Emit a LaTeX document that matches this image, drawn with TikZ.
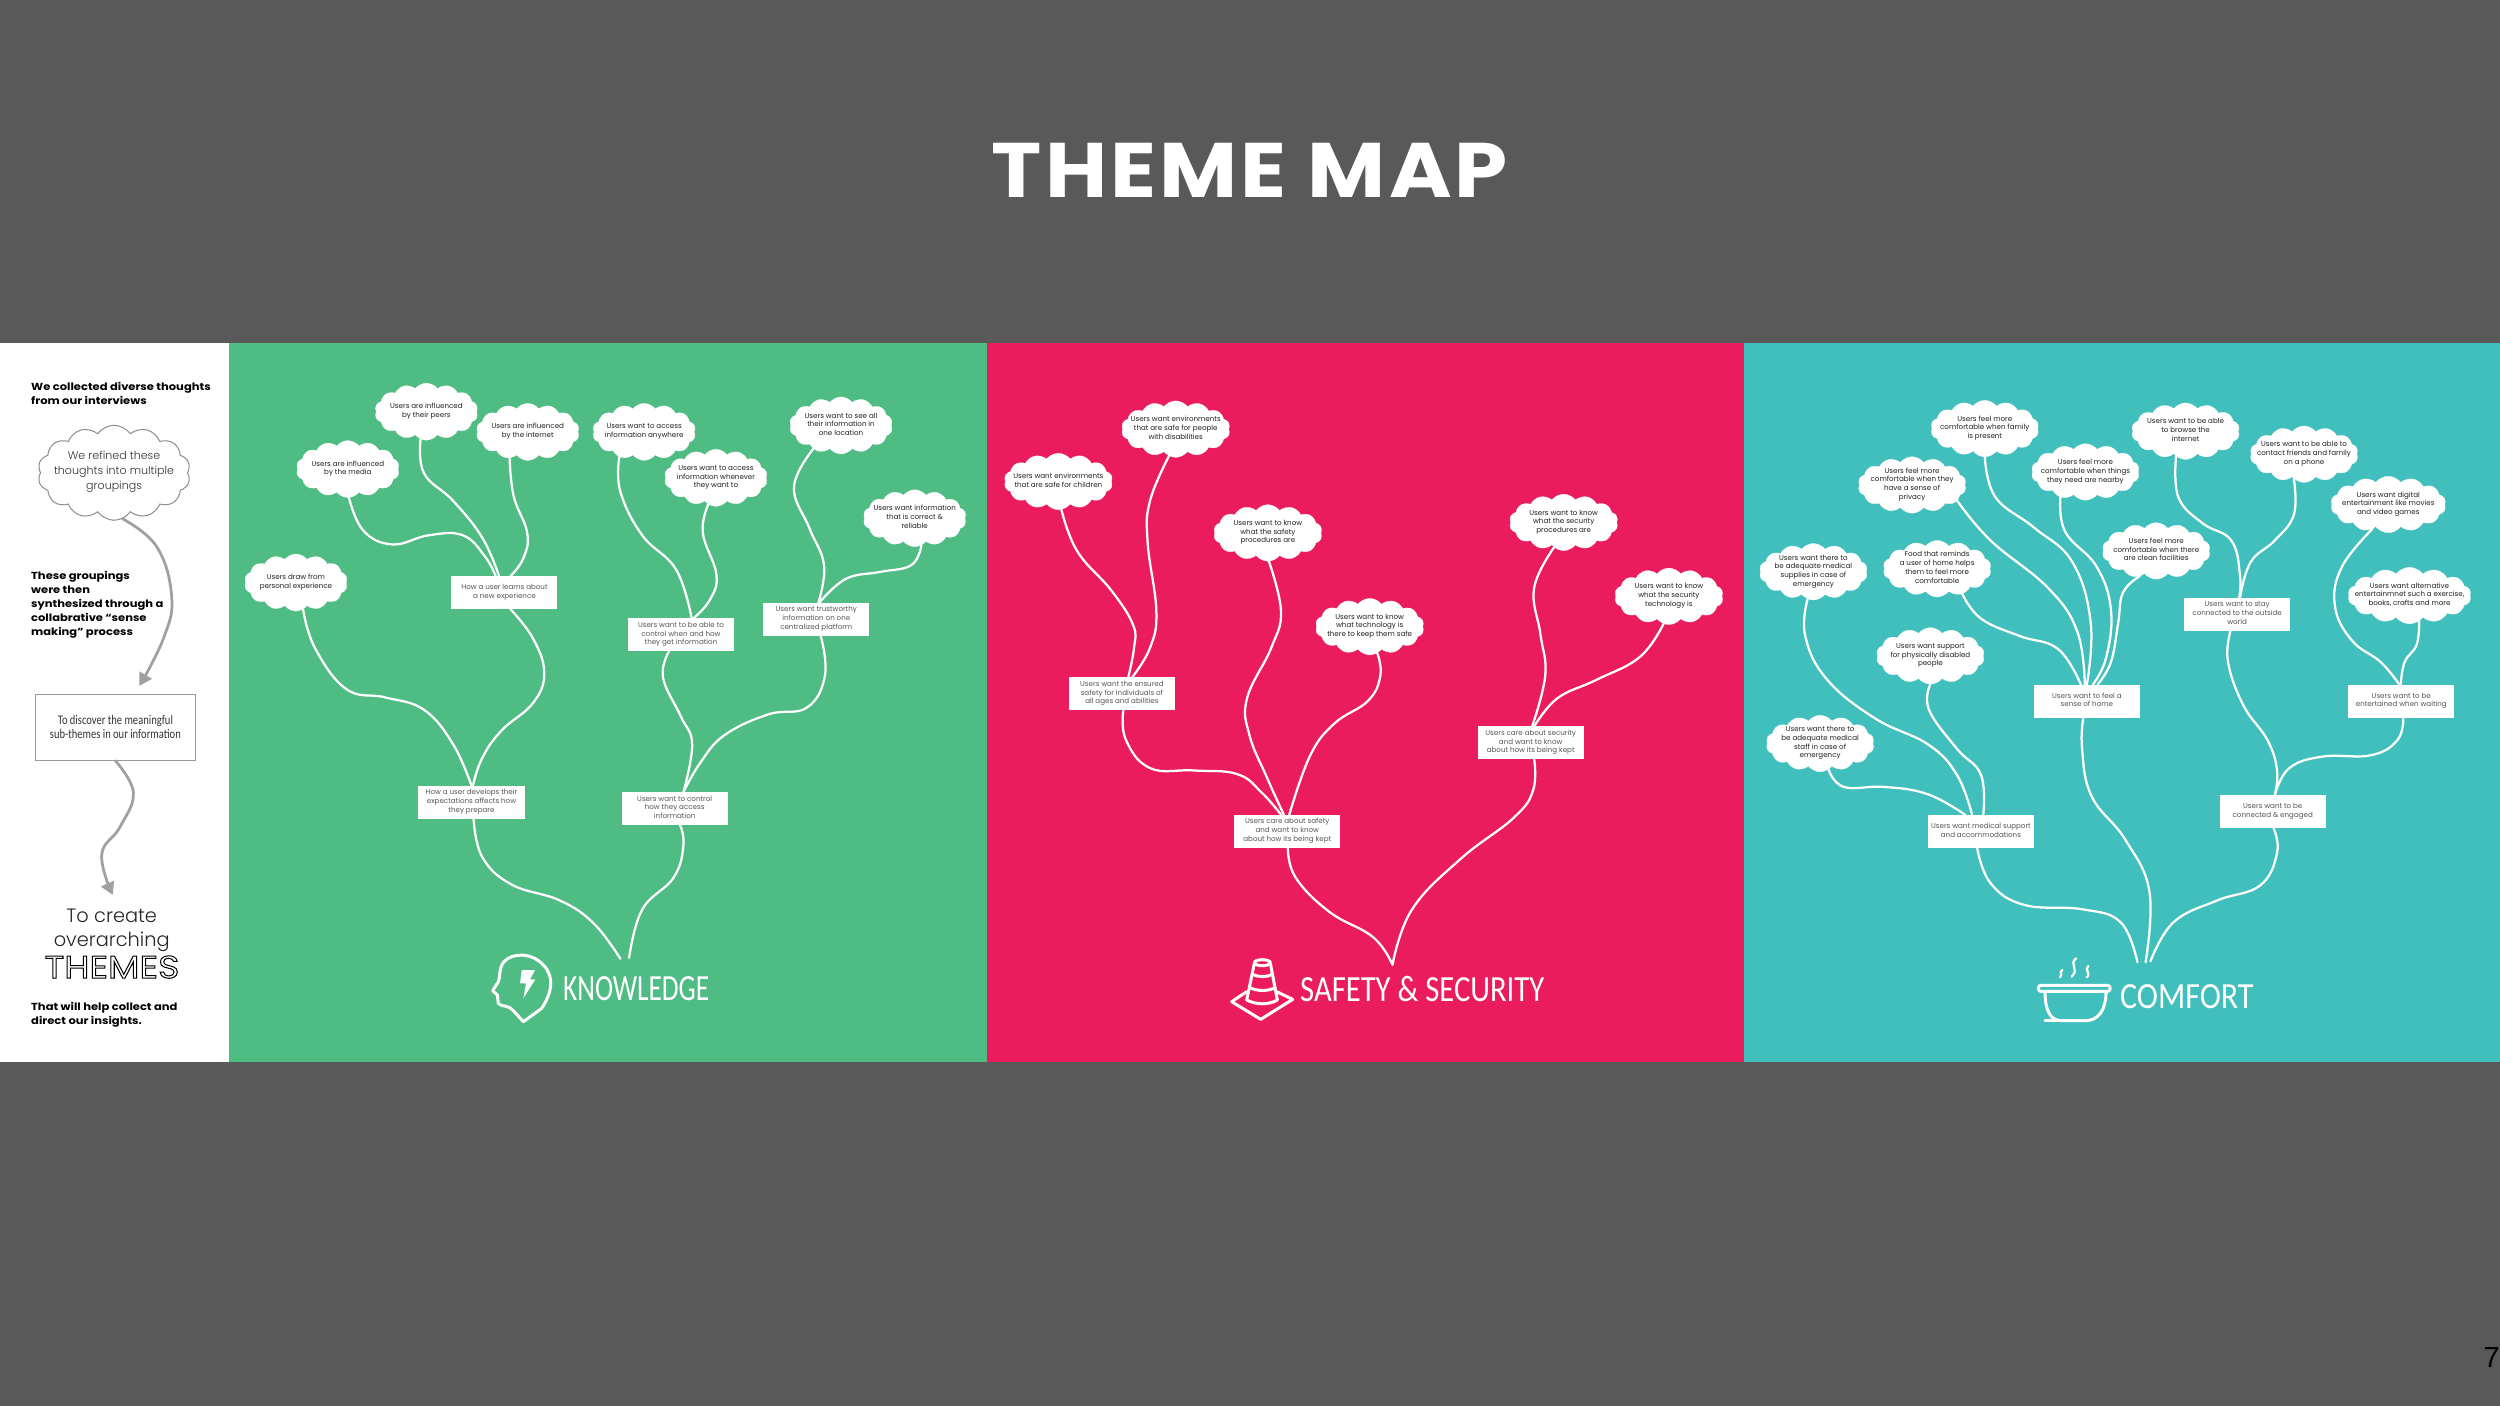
\documentclass[tikz,border=0pt]{standalone}
\usepackage{fontspec}
\usetikzlibrary{shapes.symbols,arrows.meta}
\setmainfont{Poppins}
\newfontfamily\titlefont[FakeStretch=1.1,LetterSpace=4]{Poppins}
\newfontfamily\leadfont[FakeStretch=1.13]{Poppins}
\newfontfamily\lightfont{Poppins Light}
\newfontfamily\narrowfont[FakeStretch=.8]{Carlito}
\newfontfamily\labelfont[FakeStretch=.74]{Carlito}
\newfontfamily\labelfontb[FakeStretch=.83]{Carlito}
\newfontfamily\labelfontc[FakeStretch=.865]{Carlito}
\newfontfamily\outlinefont[FakeBold=3.2,FakeStretch=1.15]{Poppins}
\newfontfamily\pagefont{Liberation Sans}
\definecolor{slidebg}{HTML}{595959}
\definecolor{kgreen}{HTML}{4FBC83}
\definecolor{spink}{HTML}{EB1C5E}
\definecolor{cteal}{HTML}{40BFBD}
\definecolor{flowgray}{HTML}{A0A0A0}
\definecolor{celltext}{HTML}{202020}
\definecolor{boxtext}{HTML}{555555}
\newcommand\zt[1]{\makebox[0pt]{\raisebox{-.38em}{\smash{\begin{tabular}{@{}c@{}}#1\end{tabular}}}}}
\tikzset{
  ideacloud/.style={cloud,cloud puffs=14,cloud puff arc=105,cloud ignores aspect=true,inner sep=0pt,outer sep=0pt,fill=white,draw=white,line width=.3pt,text=celltext,font=\fontsize{8.1}{9.9}\selectfont},
  subtheme/.style={rectangle,inner sep=0pt,outer sep=0pt,fill=white,minimum width=4.24cm,minimum height=1.32cm,text=boxtext,font=\fontsize{8.1}{9.9}\selectfont},
  branch/.style={draw=white,line width=.09cm,line cap=round},
  icon/.style={draw=white,line width=.12cm,line join=round,line cap=round},
  flow/.style={draw=flowgray,line width=.11cm,-{Triangle[length=.5cm,width=.55cm]}},
  leftbold/.style={anchor=west,align=left,inner sep=0pt,text=black,font=\leadfont\fontsize{11.6}{15.9}\selectfont\bfseries},
  themelabel/.style={inner sep=0pt,text=white,font=\fontsize{42}{42}\selectfont},
}
\newcommand\cl[6]{\node[ideacloud,minimum width=#4*.04cm,minimum height=#5*.04cm] (#1) at (#2,#3) {\zt{#6}};}
\newcommand\bx[4]{\node[subtheme] (#1) at (#2,#3) {\zt{#4}};}
\begin{document}
\begin{tikzpicture}[x=.04cm,y=-.04cm]
\useasboundingbox (0,0) rectangle (2500,1406);
\fill[slidebg] (0,0) rectangle (2500,1406);
\fill[white] (0,343) rectangle (229,1062);
\fill[kgreen] (229,343) rectangle (987,1062);
\fill[spink] (987,343) rectangle (1744,1062);
\fill[cteal] (1744,343) rectangle (2500,1062);
\node[inner sep=0pt,text=white,font=\titlefont\fontsize{88}{88}\selectfont\bfseries] (title) at (1250,170.5) {THEME MAP};
\node[anchor=east,inner sep=0pt,text=black,font=\pagefont\fontsize{33}{33}\selectfont] (pagenum) at (2500,1358) {7};

%% left column
\begin{scope}[shift={(0,340)},x=.013333cm,y=-.018365cm]
\node[leftbold] (l1) at (93,116) {We collected diverse thoughts\\from our interviews};
\node[cloud,cloud puffs=14,cloud puff arc=110,cloud ignores aspect=true,inner sep=0pt,outer sep=0pt,fill=white,draw=black!45,line width=.04cm,minimum width=6.1cm,minimum height=3.8cm] (lc) at (342,289) {};
\node[inner sep=0pt,align=center,text=black!80,font=\lightfont\fontsize{12.6}{16.7}\selectfont] (lct) at (342,287) {We refined these\\thoughts into multiple\\groupings};
\node[leftbold] (l2) at (93,577) {These groupings\\were then\\synthesized through a\\collabrative “sense\\making” process};
\node[rectangle,draw=black!40,line width=.04cm,fill=white,minimum width=6.4cm,minimum height=2.62cm,inner sep=0pt,align=center,text=black!80,font=\narrowfont\fontsize{15}{16}\selectfont] (lb) at (346,843) {To discover the meaningful\\sub-themes in our information};
\node[inner sep=0pt,align=center,text=black!85,font=\lightfont\fontsize{22}{27}\selectfont] (lt) at (335,1285) {To create\\overarching};
\node[inner sep=0pt,text=black,font=\outlinefont\fontsize{36}{36}\selectfont] (lth) at (336,1365) {\special{pdf:code 1 1 1 rg}THEMES\special{pdf:code 0 0 0 rg}};
\node[leftbold] (l3) at (93,1468) {That will help collect and\\direct our insights.};
\coordinate (a1end) at (418,753);
\coordinate (a2end) at (338,1208);
\draw[flow] plot[smooth,tension=.7] coordinates {(lc.-80) (470,450) (515,560) (490,650) (a1end)};
\draw[flow] plot[smooth,tension=.7] coordinates {(345,915) (400,985) (360,1060) (305,1120) (a2end)};
\end{scope}

%% knowledge
\begin{scope}[shift={(230,340)},x=.01939cm,y=-.018365cm]
\cl{k1}{136}{528}{103}{57}{Users draw from\\personal experience}
\cl{k2}{243}{281}{103}{57}{Users are influenced\\by the media}
\cl{k3}{405}{156}{103}{57}{Users are influenced\\by their peers}
\cl{k4}{614}{200}{103}{57}{Users are influenced\\by the internet}
\cl{k5}{854}{200}{103}{57}{Users want to access\\information anywhere}
\cl{k6}{1002}{300}{103}{57}{Users want to access\\information whenever\\they want to}
\cl{k7}{1260}{186}{103}{57}{Users want to see all\\their information in\\one location}
\cl{k8}{1412}{388}{103}{57}{Users want information\\that is correct \&\\reliable}
\bx{b1}{566}{550}{How a user learns about\\a new experience}
\bx{b2}{498}{1006}{How a user develops their\\expectations affects how\\they prepare}
\bx{b3}{930}{642}{Users want to be able to\\control when and how\\they get information}
\bx{b4}{1209}{608}{Users want trustworthy\\information on one\\centralized platform}
\bx{b5}{917}{1020}{Users want to control\\how they access\\information}
\coordinate (kr1) at (805,1347);
\coordinate (kr2) at (823,1345);
\draw[branch] plot[smooth,tension=.7] coordinates {(k1.-75) (175,670) (240,760) (320,778) (400,805) (460,880) (b2.90)};
\draw[branch] plot[smooth,tension=.7] coordinates {(k2.-88) (275,415) (335,445) (410,425) (480,425) (525,470) (b1.118)};
\draw[branch] plot[smooth,tension=.7] coordinates {(k3.-102) (400,290) (460,350) (520,430) (b1.108)};
\draw[branch] plot[smooth,tension=.7] coordinates {(k4.-125) (585,340) (613,420) (605,475) (b1.70)};
\draw[branch] plot[smooth,tension=.7] coordinates {(b1.-70) (625,650) (648,725) (625,790) (560,850) (520,910) (b2.85)};
\draw[branch] plot[smooth,tension=.7] coordinates {(b2.-83) (520,1125) (580,1185) (680,1220) (750,1270) (kr1)};
\draw[branch] plot[smooth,tension=.7] coordinates {(k5.-135) (805,330) (850,425) (920,500) (b3.57)};
\draw[branch] plot[smooth,tension=.7] coordinates {(k6.-106) (975,420) (1003,510) (990,565) (b3.53)};
\draw[branch] plot[smooth,tension=.7] coordinates {(k7.-140) (1163,320) (1195,410) (1225,490) (b4.83)};
\draw[branch] plot[smooth,tension=.7] coordinates {(k8.-76) (1405,490) (1340,505) (1270,520) (b4.80)};
\draw[branch] plot[smooth,tension=.7] coordinates {(b3.-126) (893,735) (930,820) (953,880) (b5.62)};
\draw[branch] plot[smooth,tension=.7] coordinates {(b4.-75) (1227,730) (1190,800) (1110,815) (1020,860) (970,920) (b5.62)};
\draw[branch] plot[smooth,tension=.7] coordinates {(b5.-72) (935,1100) (915,1170) (850,1240) (kr2)};
\end{scope}
\node[themelabel,anchor=west] (klabel) at (563,989) {\labelfont KNOWLEDGE};
\begin{scope}[shift={(480,940)},x=.013333cm,y=-.013333cm]
\draw[icon] (130,245) -- (185,205) .. controls (215,160) and (225,110) .. (190,75) .. controls (160,40) and (100,35) .. (72,65) .. controls (55,85) and (62,110) .. (55,125) -- (38,152) -- (52,165) -- (55,190) .. controls (60,200) and (90,195) .. (100,212) -- cycle;
\fill[white] (125,90) -- (165,90) -- (150,118) -- (166,118) -- (130,175) -- (138,130) -- (120,130) -- cycle;
\end{scope}

%% safety
\begin{scope}[shift={(990,340)},x=.01939cm,y=-.018365cm]
\cl{s1}{141}{308}{108.5}{56.5}{Users want environments\\that are safe for children}
\cl{s2}{383}{194}{108.5}{56.5}{Users want environments\\that are safe for people\\with disabilities}
\cl{s3}{573}{420}{108.5}{56.5}{Users want to know\\what the safety\\procedures are}
\cl{s4}{783}{624}{108.5}{56.5}{Users want to know\\what technology is\\there to keep them safe}
\cl{s5}{1183}{397}{108.5}{56.5}{Users want to know\\what the security\\procedures are}
\cl{s6}{1400}{558}{108.5}{56.5}{Users want to know\\what the security\\technology is}
\bx{sb1}{272}{770}{Users want the ensured\\safety for individuals of\\all ages and abilities}
\bx{sb2}{613}{1069}{Users care about safety\\and want to know\\about how its being kept}
\bx{sb3}{1115}{877}{Users care about security\\and want to know\\about how its being kept}
\coordinate (sr) at (830,1360);
\draw[branch] plot[smooth,tension=.7] coordinates {(s1.-84) (180,460) (250,545) (295,620) (297,670) (sb1.69)};
\draw[branch] plot[smooth,tension=.7] coordinates {(s2.-104) (330,350) (325,440) (343,590) (330,670) (sb1.58)};
\draw[branch] plot[smooth,tension=.7] coordinates {(s3.-88) (600,590) (580,670) (530,780) (535,860) (570,950) (sb2.102)};
\draw[branch] plot[smooth,tension=.7] coordinates {(s4.-74) (805,730) (780,785) (710,835) (660,905) (sb2.83)};
\draw[branch] plot[smooth,tension=.7] coordinates {(sb1.-85) (280,870) (330,932) (420,937) (510,945) (560,985) (sb2.111)};
\draw[branch] plot[smooth,tension=.7] coordinates {(s5.-111) (1122,540) (1135,640) (1145,730) (sb3.85)};
\draw[branch] plot[smooth,tension=.7] coordinates {(s6.-101) (1340,690) (1250,740) (1170,780) (sb3.78)};
\draw[branch] plot[smooth,tension=.7] coordinates {(sb2.-88) (630,1170) (700,1245) (790,1300) (sr)};
\draw[branch] plot[smooth,tension=.7] coordinates {(sb3.-78) (1120,980) (1080,1040) (970,1130) (870,1240) (sr)};
\end{scope}
\node[themelabel,anchor=west] (slabel) at (1300,989) {\labelfontb SAFETY \& SECURITY};
\begin{scope}[shift={(1220,950)},x=.013333cm,y=-.013333cm]
\draw[icon] (127,38) ellipse [x radius=24,y radius=9];
\draw[icon] (103,40) -- (80,150) .. controls (110,165) and (145,165) .. (172,150) -- (151,40);
\draw[icon] (97,73) .. controls (115,82) and (140,82) .. (157,73);
\draw[icon] (90,113) .. controls (110,124) and (145,124) .. (165,113);
\draw[icon] (80,125) -- (35,155) -- (122,208) -- (218,148) -- (170,125);
\end{scope}

%% comfort
\begin{scope}[shift={(1745,380)},x=.019259cm,y=-.017346cm]
\cl{c1}{142}{442}{108}{56.5}{Users want there to\\be adequate medical\\supplies in case of\\emergency}
\cl{c2}{385}{636}{108}{56.5}{Users want support\\for physically disabled\\people}
\cl{c3}{156}{838}{108}{56.5}{Users want there to\\be adequate medical\\staff in case of\\emergency}
\cl{c4}{347}{242}{108}{56.5}{Users feel more\\comfortable when they\\have a sense of\\privacy}
\cl{c5}{399}{435}{108}{56.5}{Food that reminds\\a user of home helps\\them to feel more\\comfortable}
\cl{c6}{498}{112}{108}{56.5}{Users feel more\\comfortable when family\\is present}
\cl{c7}{707}{212}{108}{56.5}{Users feel more\\comfortable when things\\they need are nearby}
\cl{c8}{854}{394}{108}{56.5}{Users feel more\\comfortable when there\\are clean facilities}
\cl{c9}{915}{118}{108}{56.5}{Users want to be able\\to browse the\\internet}
\cl{c10}{1161}{171}{108}{56.5}{Users want to be able to\\contact friends and family\\on a phone}
\cl{c11}{1336}{287}{115}{56.5}{Users want digital\\entertainment like movies\\and video games}
\cl{c12}{1380}{497}{123}{56.5}{Users want alternative\\entertainmnet such a exercise,\\books, crafts and more}
\bx{cb1}{490}{1041}{Users want medical support\\and accommodations}
\bx{cb2}{710}{740}{Users want to feel a\\sense of home}
\bx{cb3}{1022}{540}{Users want to stay\\connected to the outside\\world}
\bx{cb4}{1363}{740}{Users want to be\\entertained when waiting}
\bx{cb5}{1096}{995}{Users want to be\\connected \& engaged}
\coordinate (cr1) at (815,1342);
\coordinate (cr2) at (832,1342);
\coordinate (cr3) at (842,1340);
\draw[branch] plot[smooth,tension=.7] coordinates {(c1.-102) (125,590) (170,690) (270,780) (380,840) (440,910) (cb1.118)};
\draw[branch] plot[smooth,tension=.7] coordinates {(c2.-90) (382,760) (440,850) (490,910) (cb1.82)};
\draw[branch] plot[smooth,tension=.7] coordinates {(c3.-72) (205,938) (290,938) (380,955) (cb1.133)};
\draw[branch] plot[smooth,tension=.7] coordinates {(c4.-19) (510,370) (630,480) (690,580) (cb2.97)};
\draw[branch] plot[smooth,tension=.7] coordinates {(c5.-45) (490,550) (570,590) (650,620) (cb2.110)};
\draw[branch] plot[smooth,tension=.7] coordinates {(c6.-90) (520,270) (600,340) (680,420) (718,560) (cb2.90)};
\draw[branch] plot[smooth,tension=.7] coordinates {(c7.-135) (665,350) (730,430) (760,530) (750,640) (cb2.70)};
\draw[branch] plot[smooth,tension=.7] coordinates {(c8.-123) (785,490) (775,560) (760,650) (cb2.57)};
\draw[branch] plot[smooth,tension=.7] coordinates {(c9.-111) (900,270) (950,330) (1010,370) (1028,450) (cb3.83)};
\draw[branch] plot[smooth,tension=.7] coordinates {(c10.-113) (1140,310) (1100,370) (1050,420) (cb3.80)};
\draw[branch] plot[smooth,tension=.7] coordinates {(c11.-123) (1240,430) (1225,520) (1260,600) (1320,650) (cb4.97)};
\draw[branch] plot[smooth,tension=.7] coordinates {(c12.-69) (1395,610) (1370,650) (cb4.92)};
\draw[branch] plot[smooth,tension=.7] coordinates {(cb3.-112) (1003,650) (1035,750) (1085,830) (1105,900) (cb5.83)};
\draw[branch] plot[smooth,tension=.7] coordinates {(cb4.-83) (1355,830) (1300,865) (1200,868) (1130,895) (cb5.83)};
\draw[branch] plot[smooth,tension=.7] coordinates {(cb1.-103) (510,1160) (580,1210) (700,1220) (780,1250) (cr1)};
\draw[branch] plot[smooth,tension=.7] coordinates {(cb2.-102) (700,850) (720,960) (790,1060) (840,1180) (cr2)};
\draw[branch] plot[smooth,tension=.7] coordinates {(cb5.-87) (1105,1090) (1070,1165) (980,1200) (890,1250) (cr3)};
\end{scope}
\node[themelabel,anchor=west] (clabel) at (2120,996.5) {\labelfontc COMFORT};
\begin{scope}[shift={(2020,950)},x=.013333cm,y=-.013333cm]
\draw[icon,rounded corners=.1cm] (55,106) rectangle (270,124);
\draw[icon] (75,125) .. controls (75,180) and (90,212) .. (125,212) -- (195,212) .. controls (235,212) and (258,180) .. (258,125);
\draw[icon] (75,212) -- (195,212);
\draw[icon,line width=.09cm] (127,60) .. controls (115,68) and (130,72) .. (120,82);
\draw[icon,line width=.09cm] (168,25) .. controls (145,45) and (180,55) .. (155,80);
\draw[icon,line width=.09cm] (205,48) .. controls (190,60) and (215,68) .. (200,82);
\end{scope}
\end{tikzpicture}
\end{document}
